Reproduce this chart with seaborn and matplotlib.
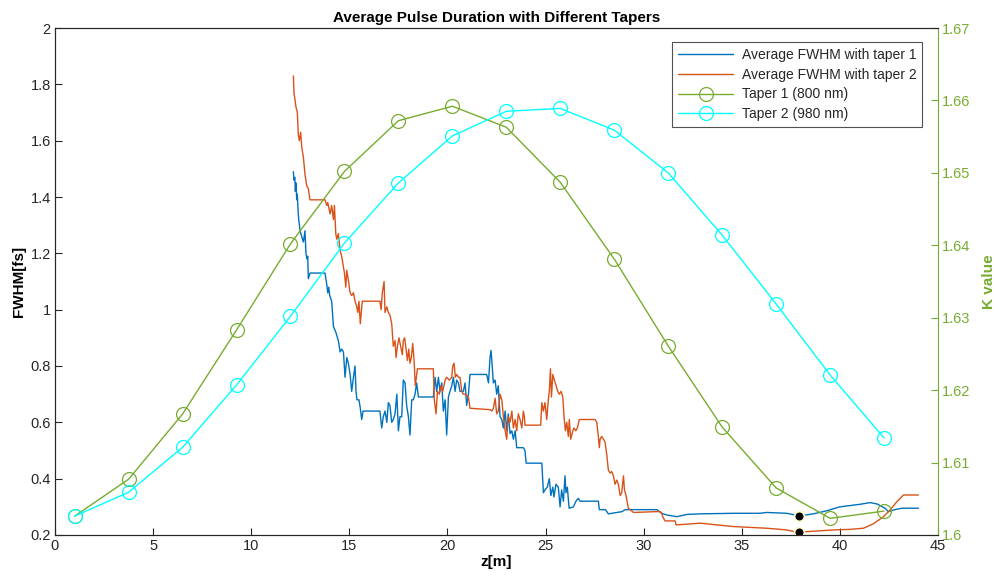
import matplotlib
matplotlib.use("Agg")
import matplotlib.pyplot as plt
from matplotlib.ticker import FormatStrFormatter, MultipleLocator
import numpy as np
import pandas as pd
import seaborn as sns

# ---------------- data ----------------
z_taper1 = [12.15, 12.18, 12.22, 12.25, 12.28, 12.32, 12.35, 12.39, 12.42, 12.49, 12.57, 12.66,
            12.74, 12.79, 12.84, 12.88, 12.91, 13.0, 13.76, 13.85, 13.90, 13.95, 14.0, 14.10,
            14.19, 14.31, 14.44, 14.53, 14.61, 14.70, 14.78, 14.87, 14.95, 15.04, 15.12, 15.21,
            15.29, 15.34, 15.39, 15.49, 15.56, 15.63, 15.70, 16.56, 16.65, 16.73, 16.82, 16.91,
            16.99, 17.07, 17.16, 17.24, 17.33, 17.42, 17.50, 17.58, 17.67, 17.75, 17.84, 17.92,
            18.01, 18.09, 18.18, 18.26, 18.35, 18.43, 18.52, 19.28, 19.37, 19.45, 19.54, 19.62,
            19.71, 19.79, 19.88, 19.96, 20.05, 20.13, 20.22, 20.30, 20.39, 20.47, 20.56, 20.64,
            20.81, 20.90, 20.98, 21.07, 21.15, 22.0, 22.09, 22.17, 22.22, 22.26, 22.34, 22.43,
            22.51, 22.59, 22.68, 22.77, 22.85, 22.94, 23.02, 23.10, 23.19, 23.28, 23.36, 23.45,
            23.53, 23.87, 23.95, 24.01, 24.81, 24.89, 24.97, 25.09, 25.19, 25.27, 25.37, 25.43,
            25.53, 25.65, 25.74, 25.82, 25.91, 25.99, 26.04, 26.11, 26.20, 26.42, 26.55, 26.67,
            26.76, 27.69, 27.74, 28.05, 28.2, 28.9, 29.05, 30.67, 30.92, 31.18, 31.69, 32.2,
            32.87, 34.57, 35.9, 36.27, 37.29, 37.94, 38.65, 39.33, 40.0, 40.35, 40.7, 41.03,
            41.54, 41.9, 42.3, 42.47, 42.8, 43.15, 44.0]
fwhm_taper1 = [1.49, 1.46, 1.47, 1.42, 1.45, 1.39, 1.41, 1.35, 1.32, 1.28, 1.26, 1.24,
               1.28, 1.20, 1.18, 1.19, 1.11, 1.13, 1.13, 1.09, 1.06, 1.08, 1.05, 1.03,
               0.94, 0.92, 0.89, 0.85, 0.86, 0.85, 0.76, 0.83, 0.81, 0.77, 0.71, 0.76,
               0.80, 0.71, 0.68, 0.68, 0.65, 0.61, 0.64, 0.64, 0.58, 0.62, 0.64, 0.60,
               0.67, 0.66, 0.60, 0.61, 0.63, 0.70, 0.57, 0.62, 0.62, 0.75, 0.74, 0.66,
               0.62, 0.555, 0.68, 0.68, 0.70, 0.74, 0.69, 0.69, 0.76, 0.71, 0.76, 0.71,
               0.74, 0.64, 0.68, 0.555, 0.69, 0.71, 0.73, 0.76, 0.71, 0.75, 0.74, 0.71,
               0.71, 0.74, 0.66, 0.70, 0.77, 0.77, 0.74, 0.83, 0.855, 0.82, 0.74, 0.75,
               0.70, 0.73, 0.62, 0.61, 0.58, 0.64, 0.57, 0.63, 0.56, 0.57, 0.54, 0.57,
               0.51, 0.51, 0.50, 0.455, 0.455, 0.35, 0.36, 0.37, 0.40, 0.34, 0.37, 0.335,
               0.38, 0.37, 0.30, 0.36, 0.32, 0.41, 0.35, 0.37, 0.295, 0.30, 0.32, 0.33,
               0.32, 0.32, 0.29, 0.29, 0.275, 0.283, 0.29, 0.29, 0.277, 0.271, 0.265, 0.273,
               0.275, 0.277, 0.277, 0.28, 0.277, 0.268, 0.275, 0.286, 0.30, 0.303, 0.306, 0.309,
               0.315, 0.31, 0.295, 0.283, 0.29, 0.295, 0.295]

z_taper2 = [12.15, 12.18, 12.22, 12.28, 12.35, 12.40, 12.45, 12.52, 12.57, 12.66, 12.74, 12.83,
            12.91, 12.95, 13.0, 13.76, 13.85, 13.90, 14.02, 14.10, 14.19, 14.24, 14.31, 14.36,
            14.44, 14.53, 14.61, 14.70, 14.75, 14.82, 14.87, 14.95, 15.04, 15.12, 15.21, 15.29,
            15.38, 15.43, 15.49, 15.56, 15.66, 16.56, 16.62, 16.68, 16.77, 16.82, 16.91, 16.99,
            17.07, 17.16, 17.24, 17.33, 17.38, 17.45, 17.53, 17.64, 17.70, 17.75, 17.82, 17.89,
            17.96, 18.03, 18.09, 18.16, 18.23, 18.30, 18.36, 18.47, 19.28, 19.33, 19.42, 19.49,
            19.59, 19.66, 19.76, 19.88, 19.96, 20.10, 20.22, 20.27, 20.34, 20.40, 20.47, 20.56,
            20.64, 20.73, 20.81, 20.90, 21.07, 21.15, 22.17, 22.26, 22.34, 22.43, 22.51, 22.59,
            22.68, 22.77, 22.85, 22.94, 23.02, 23.10, 23.19, 23.28, 23.36, 23.45, 23.53, 23.61,
            23.70, 23.79, 23.87, 23.92, 23.95, 24.75, 24.81, 24.89, 24.97, 25.06, 25.14, 25.19,
            25.25, 25.30, 25.37, 25.45, 25.54, 25.62, 25.70, 25.79, 25.88, 25.94, 26.01, 26.08,
            26.16, 26.21, 26.28, 26.39, 26.45, 26.54, 26.62, 26.72, 27.52, 27.61, 27.69, 27.74,
            27.78, 27.86, 27.95, 28.03, 28.12, 28.20, 28.29, 28.37, 28.46, 28.54, 28.63, 28.71,
            28.80, 28.88, 28.97, 29.02, 29.10, 29.22, 29.31, 29.48, 30.67, 30.84, 30.92, 30.97,
            31.09, 31.60, 31.65, 32.11, 32.87, 34.57, 36.27, 37.29, 37.94, 38.31, 39.67, 40.52,
            41.2, 41.71, 42.22, 42.56, 42.9, 43.24, 44.0]
fwhm_taper2 = [1.83, 1.77, 1.75, 1.72, 1.70, 1.62, 1.60, 1.63, 1.58, 1.54, 1.48, 1.44,
               1.43, 1.41, 1.39, 1.39, 1.37, 1.38, 1.34, 1.37, 1.32, 1.37, 1.27, 1.25,
               1.27, 1.21, 1.19, 1.15, 1.13, 1.08, 1.14, 1.105, 1.06, 1.05, 1.06, 1.03,
               1.01, 0.99, 1.03, 0.95, 1.03, 1.03, 1.0, 1.06, 1.10, 0.99, 1.01, 0.99,
               0.98, 0.95, 0.87, 0.89, 0.83, 0.87, 0.90, 0.86, 0.84, 0.89, 0.90, 0.86,
               0.82, 0.86, 0.81, 0.83, 0.88, 0.82, 0.73, 0.79, 0.79, 0.68, 0.63, 0.71,
               0.70, 0.73, 0.71, 0.75, 0.76, 0.75, 0.76, 0.80, 0.81, 0.76, 0.77, 0.76,
               0.76, 0.71, 0.70, 0.70, 0.69, 0.65, 0.645, 0.64, 0.65, 0.685, 0.63, 0.64,
               0.70, 0.68, 0.62, 0.57, 0.54, 0.62, 0.60, 0.64, 0.58, 0.61, 0.57, 0.63,
               0.61, 0.58, 0.64, 0.62, 0.59, 0.59, 0.67, 0.64, 0.67, 0.61, 0.68, 0.71,
               0.79, 0.69, 0.77, 0.75, 0.73, 0.71, 0.70, 0.71, 0.69, 0.62, 0.57, 0.60,
               0.55, 0.61, 0.54, 0.57, 0.58, 0.57, 0.58, 0.61, 0.61, 0.60, 0.55, 0.51,
               0.54, 0.55, 0.54, 0.53, 0.485, 0.43, 0.42, 0.425, 0.41, 0.38, 0.395, 0.38,
               0.34, 0.35, 0.41, 0.36, 0.34, 0.295, 0.29, 0.28, 0.283, 0.283, 0.277, 0.265,
               0.25, 0.25, 0.236, 0.238, 0.242, 0.23, 0.224, 0.218, 0.208, 0.212, 0.218, 0.22,
               0.224, 0.24, 0.265, 0.289, 0.318, 0.342, 0.342]

z_k = [1.0, 3.75, 6.5, 9.25, 12.0, 14.75, 17.5, 20.25, 23.0, 25.75, 28.5, 31.25, 34.0, 36.75, 39.5, 42.25]
k_taper1 = [1.6026, 1.6077, 1.6167, 1.6283, 1.6402, 1.6502, 1.6572, 1.6592, 1.6563, 1.6487,
            1.6381, 1.6261, 1.6149, 1.6065, 1.6023, 1.6033]
k_taper2 = [1.6026, 1.6059, 1.6121, 1.6207, 1.6302, 1.6403, 1.6486, 1.6551, 1.6585, 1.6589,
            1.6559, 1.6500, 1.6414, 1.6319, 1.6221, 1.6134]

dot_z = [37.94, 37.94]
dot_fwhm = [0.268, 0.209]

labels = ["Average FWHM with taper 1", "Average FWHM with taper 2",
          "Taper 1 (800 nm)", "Taper 2 (980 nm)"]

# ---------------- style ----------------
sns.set_theme(style="white")
plt.rcParams["font.family"] = ["Liberation Sans", "DejaVu Sans"]

C_BLUE = "#0072BD"
C_ORANGE = "#D95319"
C_GREEN = "#77AC30"
C_CYAN = "#00FFFF"
AX_COL = "#262626"

fig = plt.figure(figsize=(9.98, 5.8), dpi=100)
ax = fig.add_axes([0.0551, 0.0776, 0.8848, 0.8741])
ax2 = ax.twinx()

df1 = pd.DataFrame({"z": z_taper1, "fwhm": fwhm_taper1})
df2 = pd.DataFrame({"z": z_taper2, "fwhm": fwhm_taper2})
dk = pd.DataFrame({"z": z_k, "k1": k_taper1, "k2": k_taper2})
dd = pd.DataFrame({"z": dot_z, "fwhm": dot_fwhm})

sns.lineplot(data=df1, x="z", y="fwhm", ax=ax, color=C_BLUE, lw=1.0,
             estimator=None, sort=False, legend=False)
sns.lineplot(data=df2, x="z", y="fwhm", ax=ax, color=C_ORANGE, lw=1.0,
             estimator=None, sort=False, legend=False)
sns.scatterplot(data=dd, x="z", y="fwhm", ax=ax, color="black", s=50,
                edgecolor="#fffbd0", linewidth=1.3, zorder=5, legend=False)

sns.lineplot(data=dk, x="z", y="k1", ax=ax2, color=C_GREEN, lw=1.0, marker="o",
             markersize=10, markerfacecolor="none", markeredgecolor=C_GREEN,
             markeredgewidth=0.9, estimator=None, sort=False, legend=False)
sns.lineplot(data=dk, x="z", y="k2", ax=ax2, color=C_CYAN, lw=1.0, marker="o",
             markersize=10, markerfacecolor="none", markeredgecolor=C_CYAN,
             markeredgewidth=0.9, estimator=None, sort=False, legend=False)

# axes limits / ticks
ax.set_xlim(0, 45)
ax.set_ylim(0.2, 2.0)
ax2.set_ylim(1.6, 1.67)
ax.xaxis.set_major_locator(MultipleLocator(5))
ax.yaxis.set_major_locator(MultipleLocator(0.2))
ax2.yaxis.set_major_locator(MultipleLocator(0.01))
ax.xaxis.set_major_formatter(FormatStrFormatter("%g"))
ax.yaxis.set_major_formatter(FormatStrFormatter("%g"))
ax2.yaxis.set_major_formatter(FormatStrFormatter("%g"))

ax.tick_params(axis="both", direction="in", length=5, width=0.8, colors=AX_COL,
               labelsize=10.5, pad=3)
ax.tick_params(axis="x", bottom=True, top=False)
ax.tick_params(axis="y", left=True, right=False)
ax2.tick_params(axis="y", direction="in", length=5, width=0.8, colors=C_GREEN,
                labelsize=10.5, pad=3, right=True, left=False)

for s in ["left", "bottom", "top"]:
    ax.spines[s].set_color(AX_COL)
    ax.spines[s].set_linewidth(0.8)
    ax2.spines[s].set_color(AX_COL)
    ax2.spines[s].set_linewidth(0.8)
ax.spines["right"].set_visible(False)
ax2.spines["right"].set_color(C_GREEN)
ax2.spines["right"].set_linewidth(0.8)

ax.set_xlabel("z[m]", fontsize=11, fontweight="bold", color="black", labelpad=1)
ax.set_ylabel("FWHM[fs]", fontsize=11, fontweight="bold", color="black", labelpad=3)
ax2.set_ylabel("K value", fontsize=11, fontweight="bold", color=C_GREEN, labelpad=8)
ax.set_title("Average Pulse Duration with Different Tapers", fontsize=11,
             fontweight="bold", color="black", pad=4)

handles = [ax.lines[0], ax.lines[1], ax2.lines[0], ax2.lines[1]]
leg = ax2.legend(handles, labels, loc="upper right", bbox_to_anchor=(0.982, 0.972),
                 borderaxespad=0, fontsize=10, frameon=True, fancybox=False,
                 handlelength=4.0, handletextpad=0.6, borderpad=0.4, labelspacing=0.42)
leg.get_frame().set_edgecolor(AX_COL)
leg.get_frame().set_linewidth(0.8)

fig.savefig("out.png", dpi=100)
